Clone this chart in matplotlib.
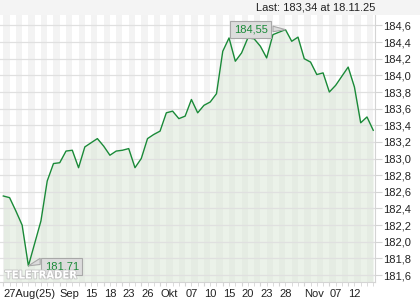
import matplotlib
matplotlib.use("Agg")
import matplotlib.pyplot as plt
import matplotlib.patheffects as pe
from matplotlib.patches import Rectangle, Polygon
import numpy as np
import pandas as pd

plt.rcParams['font.family'] = ['Liberation Sans', 'DejaVu Sans']

# ---- data ----
dates = pd.bdate_range('2025-08-27', '2025-11-18')
values = [182.55, 182.53, 182.37, 182.20, 181.71, 181.98, 182.25, 182.73, 182.94, 182.95,
          183.09, 183.10, 182.89, 183.14, 183.19, 183.24, 183.15, 183.04, 183.09, 183.10,
          183.12, 182.89, 183.00, 183.24, 183.29, 183.33, 183.55, 183.57, 183.48, 183.51,
          183.71, 183.55, 183.64, 183.68, 183.78, 184.29, 184.45, 184.17, 184.27, 184.45,
          184.44, 184.35, 184.21, 184.49, 184.52, 184.55, 184.41, 184.46, 184.20, 184.16,
          184.01, 184.03, 183.80, 183.88, 183.99, 184.10, 183.86, 183.43, 183.50, 183.34]
# label positions (the "Sep" label is pushed right of "27Aug(25)" in the reference)
tick_dates = ['2025-08-27', '2025-09-09', '2025-09-15', '2025-09-18', '2025-09-23', '2025-09-26',
              '2025-10-01', '2025-10-07', '2025-10-10', '2025-10-15', '2025-10-20', '2025-10-23',
              '2025-10-28', '2025-11-03', '2025-11-07', '2025-11-12']
tick_labels = ['27Aug(25)', 'Sep', '15', '18', '23', '26', 'Okt', '07', '10', '15', '20', '23',
               '28', 'Nov', '07', '12']
y_ticks = [181.6, 181.8, 182.0, 182.2, 182.4, 182.6, 182.8, 183.0, 183.2, 183.4, 183.6,
           183.8, 184.0, 184.2, 184.4, 184.6]
last_text = 'Last: 183,34 at 18.11.25'

vals = np.array(values)
x = np.arange(len(vals))
tick_idx = [dates.get_loc(pd.Timestamp(d)) for d in tick_dates]

W, H = 420, 300
fig = plt.figure(figsize=(W / 100, H / 100), dpi=100)
fig.patch.set_facecolor('white')
# top header strip
fig.patches.append(Rectangle((0, 1 - 14.5 / H), 1, 14.5 / H, transform=fig.transFigure,
                             facecolor='#f4f4f4', edgecolor='none', zorder=0))

left_px, right_px, top_px, bot_px = 0, 375, 14.5, 282
ax = fig.add_axes([left_px / W, 1 - bot_px / H, (right_px - left_px) / W, (bot_px - top_px) / H])
ax.set_facecolor('white')

ax.set_xlim(-0.53, 59.28)
ax.set_ylim(181.516, 184.732)

# alternating day stripes
for i in range(0, len(vals) + 1, 2):
    ax.axvspan(i, i + 1, color='#f3f3f3', lw=0, zorder=0)

# fill under line
ax.fill_between(x, vals, 181.0, color='#d9e7d5', alpha=0.5, lw=0, zorder=1)

# horizontal grid
for yv in y_ticks:
    ax.axhline(yv, color='#e0e0e0', lw=0.9, zorder=2)

ax.plot(x, vals, color='#1a8a38', lw=1.0, zorder=4)

# spines
for s in ['top', 'left']:
    ax.spines[s].set_visible(False)
for s in ['right', 'bottom']:
    ax.spines[s].set_color('#d4d4d4')
    ax.spines[s].set_linewidth(0.8)

ax.yaxis.tick_right()
ax.set_yticks(y_ticks)
ax.set_yticklabels([f'{v:.1f}'.replace('.', ',') for v in y_ticks])
ax.tick_params(axis='y', length=5, color='#d4d4d4', pad=1, labelsize=8, labelcolor='#222222')

ax.set_xticks(x, minor=True)
ax.set_xticks(tick_idx)
ax.set_xticklabels(tick_labels)
ax.tick_params(axis='x', which='both', length=3, color='#d4d4d4', pad=2, labelsize=8,
               labelcolor='#222222')
for lab in ax.get_xticklabels():
    lab.set_horizontalalignment('left')

# max / min callouts
imax = int(np.argmax(vals))
imin = int(np.argmin(vals))
bbox = dict(boxstyle='square,pad=0.3', facecolor='#dcdcdc', edgecolor='#a8a8a8', lw=0.8)
ax.annotate(f'{vals[imax]:.2f}'.replace('.', ','), xy=(imax, vals[imax]),
            xytext=(-25, 0.2), textcoords='offset points', ha='center', va='center',
            fontsize=8, color='#1a8a38', bbox=bbox, zorder=6)
ax.annotate(f'{vals[imin]:.2f}'.replace('.', ','), xy=(imin, vals[imin]),
            xytext=(24, -0.5), textcoords='offset points', ha='center', va='center',
            fontsize=8, color='#1a8a38', bbox=bbox, zorder=6)

# wedge callouts (in display-offset terms)
pt = 100 / 72
def wedge(ix, iy, pts_off):
    trans = ax.transData
    px0, py0 = trans.transform((ix, iy))
    poly = [(px0, py0)] + [(px0 + dx * pt, py0 + dy * pt) for dx, dy in pts_off]
    dpoly = [trans.inverted().transform(p) for p in poly]
    ax.add_patch(Polygon(dpoly, closed=True, facecolor='#dcdcdc', edgecolor='#a8a8a8',
                         lw=0.8, zorder=5))
wedge(imax, vals[imax], [(-9, 2.5), (-9, -1.5)])
wedge(imin, vals[imin], [(8.5, 5.5), (8.5, 1.0)])

# watermark
ax.text(5 / 375, (bot_px - 275.5) / (bot_px - top_px), 'TELETRADER', transform=ax.transAxes,
        fontsize=8, fontweight='bold', color='white', family='DejaVu Sans',
        fontstretch='condensed', ha='left', va='center', zorder=7,
        path_effects=[pe.withStroke(linewidth=1.2, foreground='#c4c4c4')])

fig.text(375 / W, 1 - 7.5 / H, last_text, ha='right', va='center', fontsize=8, color='#222222')

fig.savefig('out.png', dpi=100)
